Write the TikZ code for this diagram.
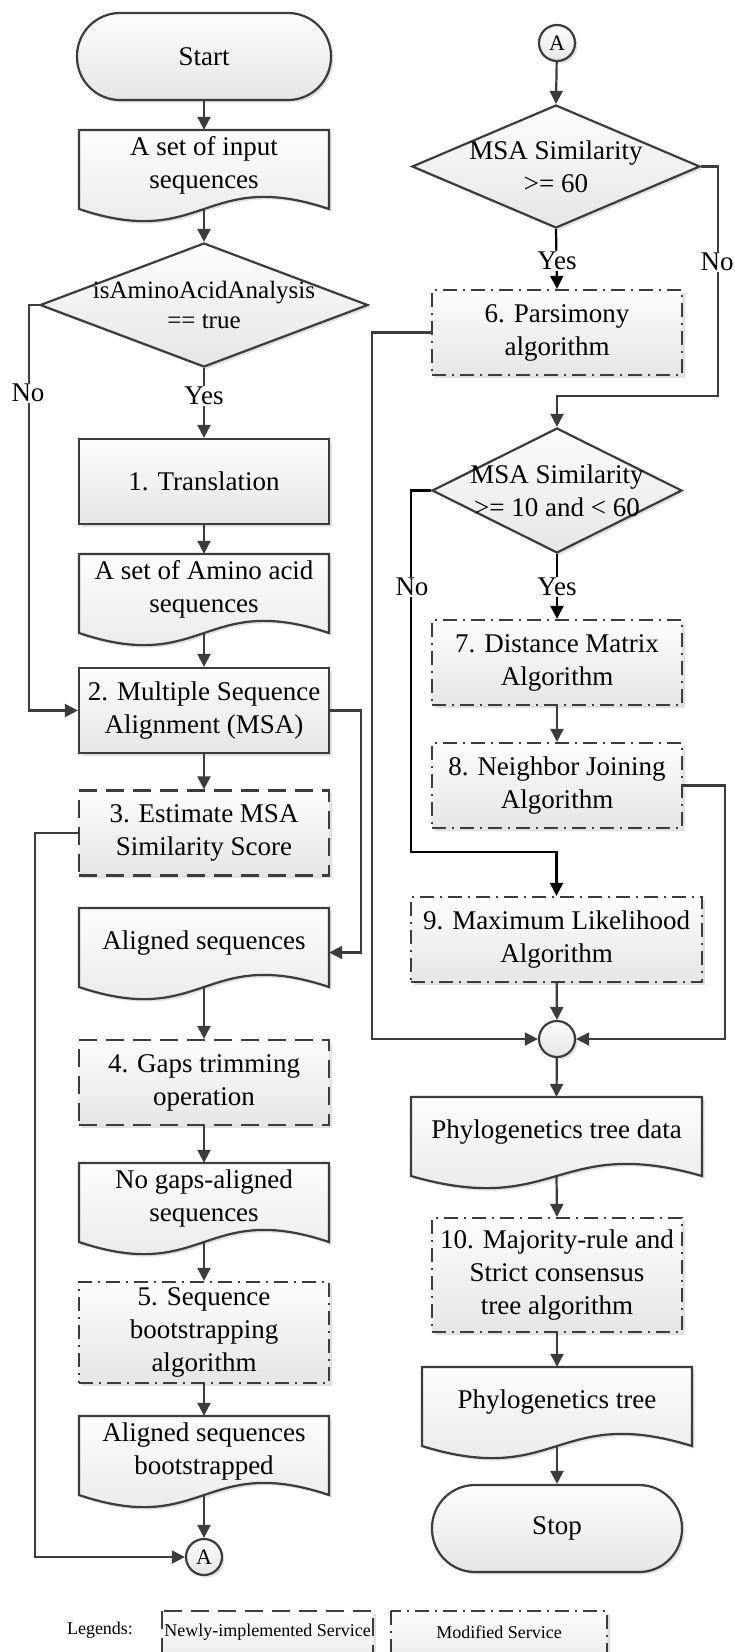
\documentclass[tikz,border=0pt]{standalone}
\usepackage{fontspec}
\setmainfont{Liberation Serif}
\usetikzlibrary{arrows.meta,shapes.geometric,shadows,calc}

\definecolor{linegray}{HTML}{3c3c3c}

\tikzset{
  base/.style={draw=linegray, line width=2.2pt, top color=black!1, bottom color=black!10,
    drop shadow={shadow xshift=2.5pt, shadow yshift=-2.5pt, opacity=0.2, fill=black!60}},
  txt/.style={font=\fontsize{27}{33}\selectfont, align=center},
  procbox/.style={base, txt, rectangle, minimum width=250pt, minimum height=85pt, inner sep=2pt},
  newbox/.style={procbox, dash pattern=on 18pt off 9pt},
  modbox/.style={procbox, dash pattern=on 14pt off 6pt on 2pt off 6pt},
  termbox/.style={procbox, rounded corners=43pt, minimum width=254pt, minimum height=87pt},
  decbox/.style={base, diamond, inner sep=0pt},
  docanchor/.style={rectangle, minimum height=79pt, inner sep=0pt},
  link/.style={draw=linegray, line width=2.2pt, -{Triangle[length=13pt,width=13pt]}},
  lbl/.style={txt, fill=white, inner sep=1pt},
  circ/.style={base, circle, minimum size=36pt, inner sep=0pt, font=\fontsize{22}{26}\selectfont},
  legtxt/.style={font=\fontsize{18}{22}\selectfont},
}

% document symbol: name, left x, right x, top y, text
\newcommand\docnode[5]{%
  \path[base] (#2,#4) -- (#3,#4) -- (#3,{#4+79})
     .. controls ({(#2+#3)/2},{#4+79-42}) and ({(#2+#3)/2},{#4+79+42}) .. (#2,{#4+79}) -- cycle;
  \node[docanchor, minimum width={#3-#2}] (#1) at ({(#2+#3)/2},{#4+39.5}) {};
  \node[txt] at ($(#1.center)+(0,-4)$) {#5};
}

\begin{document}
\begin{tikzpicture}[x=1pt,y=-1pt]
\useasboundingbox (0,0) rectangle (734,1652);
\clip (0,0) rectangle (734,1652);

% ---------- left column ----------
\node[termbox] (start) at (204,56.5) {Start};
\docnode{input}{79}{329}{130}{A set of input\\sequences}
\node[decbox, minimum width=328pt, minimum height=124pt] (d1) at (204,305) {};
\node[txt, font=\fontsize{25}{30}\selectfont] at (d1.center) {isAminoAcidAnalysis\\== true};
\node[procbox] (trans) at (204,481.5) {1. Translation};
\docnode{amino}{79}{329}{554}{A set of Amino acid\\sequences}
\node[procbox] (msa) at (204,710.5) {2. Multiple Sequence\\Alignment (MSA)};
\node[newbox] (est) at (204,833) {3. Estimate MSA\\Similarity Score};
\docnode{aligned}{79}{329}{908}{Aligned sequences}
\node[newbox] (gaps) at (204,1082.5) {4. Gaps trimming\\operation};
\docnode{nogaps}{79}{329}{1163}{No gaps-aligned\\sequences}
\node[modbox, minimum height=101pt] (boot) at (204,1332.5) {5. Sequence\\bootstrapping\\algorithm};
\docnode{alignboot}{79}{329}{1416}{Aligned sequences\\bootstrapped}
\node[circ] (A1) at (204,1557) {A};

% ---------- right column ----------
\node[circ] (A2) at (557,43) {A};
\node[decbox, minimum width=288pt, minimum height=123pt] (d2) at (556,166.5) {};
\node[txt] at (d2.center) {MSA Similarity\\>= 60};
\node[modbox] (pars) at (557,332.5) {6. Parsimony\\algorithm};
\node[decbox, minimum width=250pt, minimum height=125pt] (d3) at (557,490.5) {};
\node[txt] at (d3.center) {MSA Similarity\\>= 10 and < 60};
\node[modbox] (dist) at (557,662.5) {7. Distance Matrix\\Algorithm};
\node[modbox] (nj) at (557,785.5) {8. Neighbor Joining\\Algorithm};
\node[modbox, minimum width=291pt] (ml) at (556.5,939.5) {9. Maximum Likelihood\\Algorithm};
\node[base, circle, minimum size=36pt, inner sep=0pt] (junc) at (557,1039) {};
\docnode{treedata}{411}{702}{1097}{Phylogenetics tree data}
\node[modbox, minimum height=114pt] (cons) at (557,1275) {10. Majority-rule and\\Strict consensus\\tree algorithm};
\docnode{tree}{422}{692}{1367}{Phylogenetics tree}
\node[termbox, minimum width=250pt] (stop) at (557,1528.5) {Stop};

% ---------- connectors, left ----------
\draw[link] (start) -- (input);
\draw[link] (input.south) -- (d1.north);
\draw[link] (d1.south) -- (trans.north);
\node[lbl] at (204,396) {Yes};
\draw[link] (d1.west) -- ++(-10,0) |- (msa.west);
\node[lbl] at (28,393) {No};
\draw[link] (trans) -- (amino);
\draw[link] (amino.south) -- (msa.north);
\draw[link] (msa) -- (est);
\draw[link] (msa.east) -- ++(31,0) |- ($(aligned.east)+(0,5)$);
\draw[link] (est.west) -- ++(-43,0) |- (A1.west);
\draw[link] (aligned.south) -- (gaps.north);
\draw[link] (gaps) -- (nogaps);
\draw[link] (nogaps.south) -- (boot.north);
\draw[link] (boot) -- (alignboot);
\draw[link] (alignboot.south) -- (A1.north);

% ---------- connectors, right ----------
\draw[link] (A2) -- (d2.north);
\draw[link, draw=black] (d2.south) -- (pars.north);
\node[lbl] at (557,261) {Yes};
\draw[link] (d2.east) -- ++(17,0) |- ($(d3.north)+(0,-31)$) -- (d3.north);
\node[lbl] at (717,262) {No};
\draw[link] (pars.west) -- ++(-59,0) |- (junc.west);
\draw[link, draw=black] (d3.west) -- ++(-20,0) |- ($(ml.north)+(0,-44)$) -- (ml.north);
\node[lbl] at (412,587) {No};
\draw[link, draw=black] (d3.south) -- (dist.north);
\node[lbl] at (557,587) {Yes};
\draw[link] (dist) -- (nj);
\draw[link] (nj.east) -- ++(42,0) |- (junc.east);
\draw[link] (ml) -- (junc);
\draw[link] (junc) -- (treedata.north);
\draw[link] (treedata.south) -- (cons.north);
\draw[link] (cons) -- (tree.north);
\draw[link] (tree.south) -- (stop.north);

% ---------- legend ----------
\node[legtxt] (legend) at (100,1630) {Legends:};
\path[base, dash pattern=on 18pt off 9pt] (162,1611) rectangle (373,1680);
\node[legtxt] (legnew) at (267.5,1632) {Newly-implemented Service};
\path[base, dash pattern=on 14pt off 6pt on 2pt off 6pt] (391,1611) rectangle (607,1680);
\node[legtxt] (legmod) at (499,1632) {Modified Service};
\end{tikzpicture}
\end{document}
